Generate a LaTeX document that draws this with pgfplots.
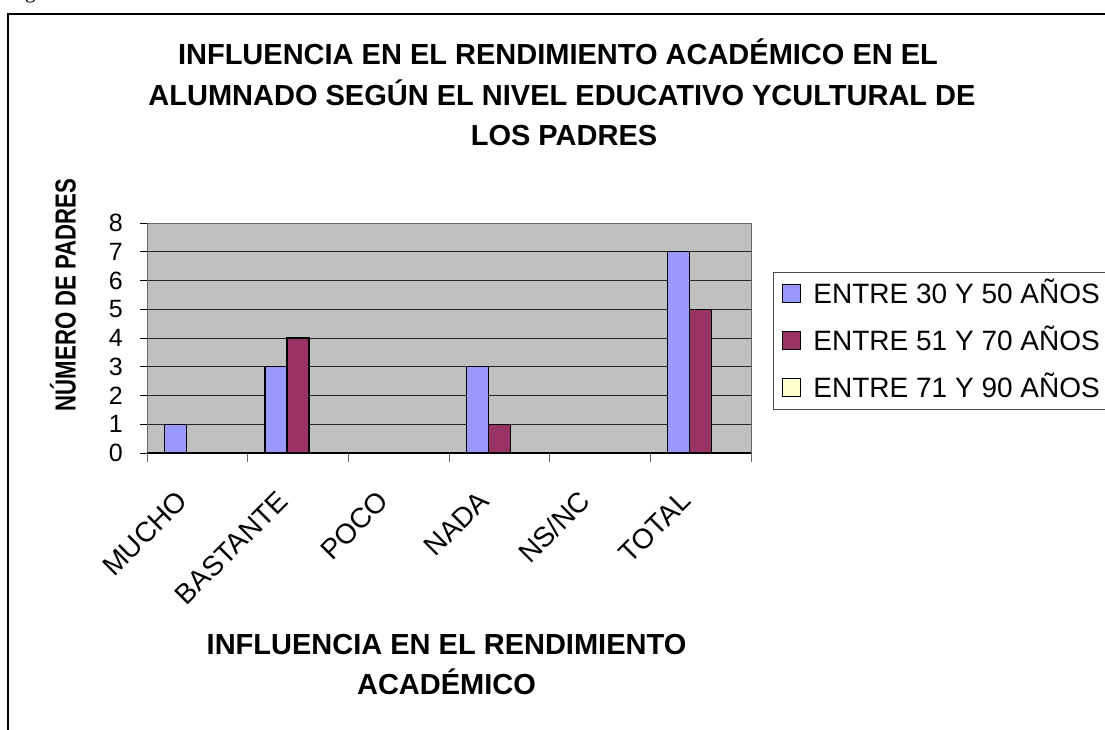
\documentclass[border=0pt]{standalone}
\usepackage{fontspec}
\setmainfont{Liberation Sans}
\newfontfamily\serifg{Liberation Serif}
\usepackage{graphicx}
\usepackage{pgfplots}
\pgfplotsset{compat=1.18}
\definecolor{sA}{HTML}{9999FF}
\definecolor{sB}{HTML}{993366}
\definecolor{sC}{HTML}{FFFFCC}
\definecolor{bg}{HTML}{C0C0C0}
\begin{document}
\begin{tikzpicture}[x=1pt,y=1pt]
\useasboundingbox (0,0) rectangle (1105,729);
\fill[white] (0,0) rectangle (1105,729);
\draw[line width=1.4pt] (8,-20) -- (8,715) -- (1130,715);
\node[anchor=base west, inner sep=0pt, font=\serifg\fontsize{21}{21}\selectfont] at (25,730) {g};
\node[anchor=base, inner sep=0pt, font=\bfseries\fontsize{29}{29}\selectfont] at (558,664) {INFLUENCIA EN EL RENDIMIENTO ACADÉMICO EN EL};
\node[anchor=base, inner sep=0pt, font=\bfseries\fontsize{29}{29}\selectfont] at (562,623) {ALUMNADO SEGÚN EL NIVEL EDUCATIVO YCULTURAL DE};
\node[anchor=base, inner sep=0pt, font=\bfseries\fontsize{29}{29}\selectfont] at (564,583) {LOS PADRES};
\begin{axis}[
  at={(147pt,276pt)}, anchor=south west,
  scale only axis, width=604pt, height=230pt,
  xmin=-0.5, xmax=5.5, ymin=0, ymax=8,
  ybar, bar width=22pt,
  axis background/.style={fill=bg},
  axis line style={draw=black!60, line width=1pt},
  xtick={0,1,2,3,4,5},
  xticklabels={MUCHO,BASTANTE,POCO,NADA,NS/NC,TOTAL},
  minor xtick={-0.5,0.5,1.5,2.5,3.5,4.5,5.5},
  ytick={0,1,2,3,4,5,6,7,8},
  tick align=outside, xtick pos=bottom, ytick pos=left,
  major tick length=7pt, minor tick length=9pt,
  major x tick style={draw=none},
  minor tick style={draw=black!60, line width=1pt},
  ytick style={draw=black, line width=1pt},
  ymajorgrids, major grid style={draw=black!85, line width=1pt},
  x tick label style={xshift=-15pt, rotate=45, anchor=east, inner sep=0pt, font=\fontsize{28}{28}\selectfont},
  xticklabel shift=36pt,
  y tick label style={anchor=east, inner sep=0pt, font=\fontsize{25}{25}\selectfont},
  yticklabel shift=17pt,
  /pgf/number format/assume math mode=true,
  ylabel={\scalebox{0.765}[1]{NÚMERO DE PADRES}},
  ylabel style={at={(axis description cs:-0.139,0.687)}, anchor=center, inner sep=0pt, font=\bfseries\fontsize{29}{29}\selectfont},
  xlabel={INFLUENCIA EN EL RENDIMIENTO\\ACADÉMICO},
  xlabel style={align=center, at={(axis description cs:0.4959,-0.787)}, anchor=north, inner sep=0pt, font=\bfseries\fontsize{29}{40}\selectfont},
  legend style={at={(axis description cs:1.0364,0.7891)}, anchor=north west, draw=black!70, line width=1pt, fill=white,
    font=\fontsize{28}{28}\selectfont, row sep=23pt, column sep=10pt, inner xsep=9pt, inner ysep=9.5pt,
    nodes={inner sep=2pt, text height=20pt, text depth=0pt}},
  legend cell align=left,
  legend image code/.code={\draw[#1, draw=black, line width=1pt] (0pt,-9pt) rectangle (18pt,9pt);},
]
\addplot[fill=sA, draw=black, line width=1.2pt, bar shift=-22pt] coordinates {(0,1) (1,3) (2,0) (3,3) (4,0) (5,7)};
\addplot[fill=sB, draw=black, line width=1.2pt, bar shift=0pt] coordinates {(0,0) (1,4) (2,0) (3,1) (4,0) (5,5)};
\addplot[fill=sC, draw=black, line width=1.2pt, bar shift=22pt] coordinates {(0,0) (1,0) (2,0) (3,0) (4,0) (5,0)};
\legend{ENTRE 30 Y 50 AÑOS, ENTRE 51 Y 70 AÑOS, ENTRE 71 Y 90 AÑOS}
\draw[black, line width=1.4pt] (rel axis cs:0,0) -- (rel axis cs:1,0);
\end{axis}
\end{tikzpicture}
\end{document}
